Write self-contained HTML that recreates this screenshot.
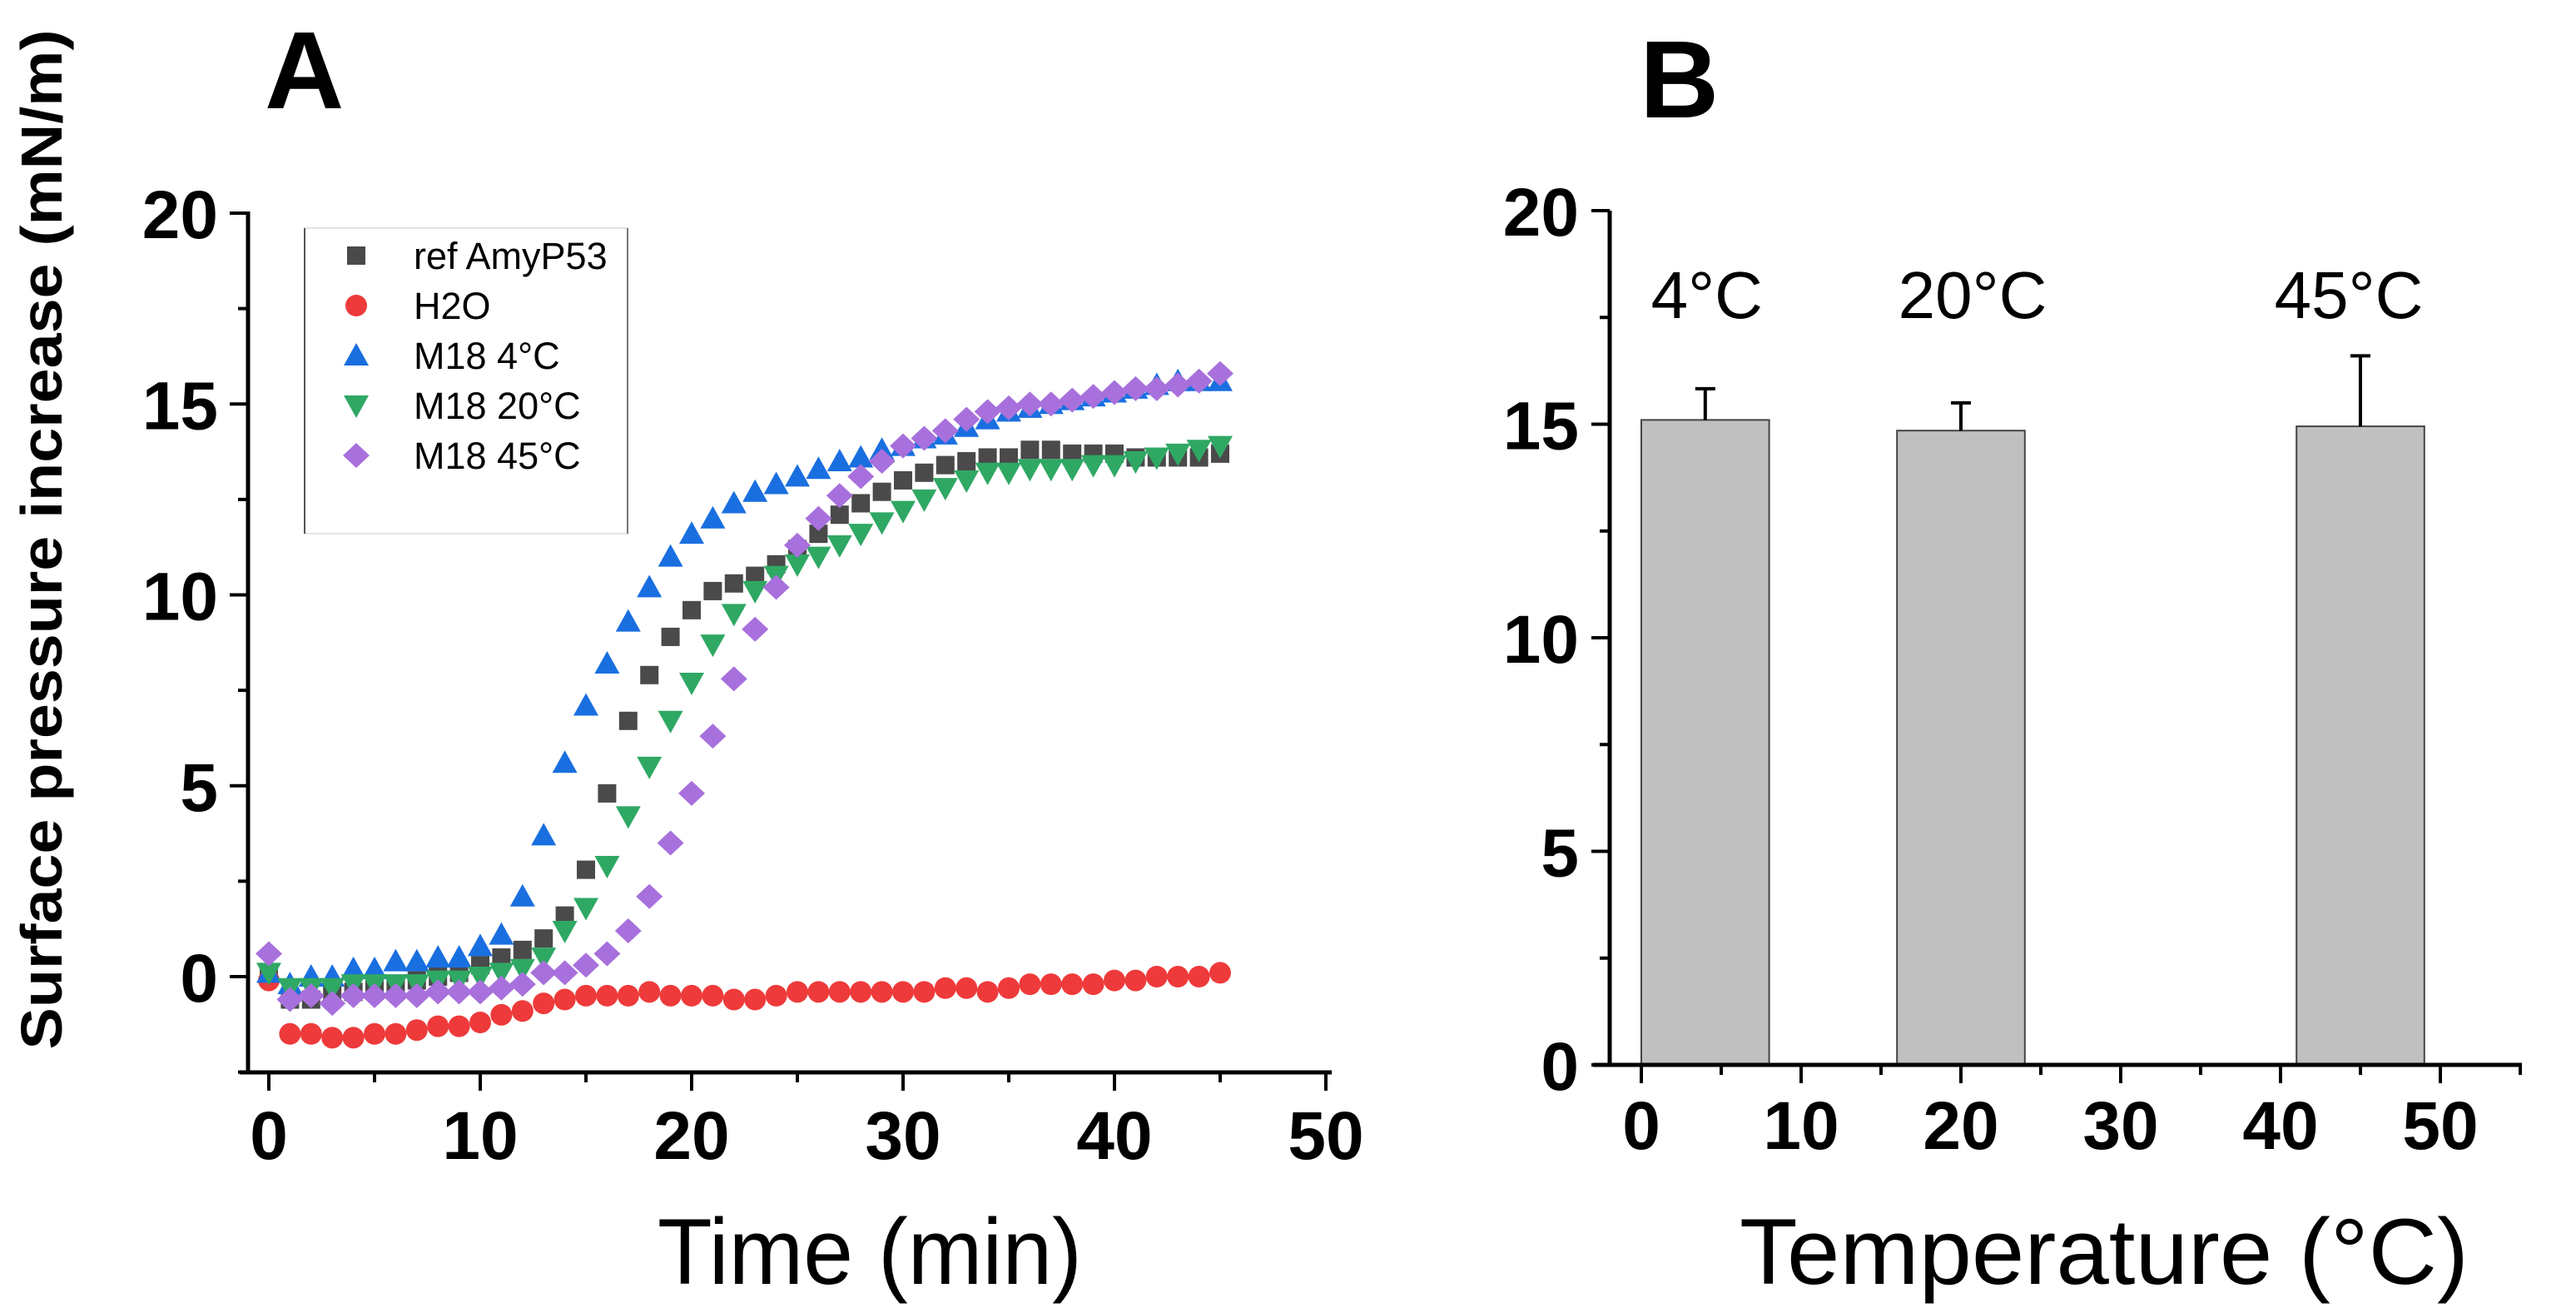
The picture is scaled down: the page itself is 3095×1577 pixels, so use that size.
<!DOCTYPE html>
<html><head><meta charset="utf-8"><style>
html,body{margin:0;padding:0;background:#fff;}
svg{display:block;}
text{font-family:"Liberation Sans",Arial,sans-serif;}
</style></head>
<body>
<svg id="fig" xmlns="http://www.w3.org/2000/svg" width="3095" height="1577" viewBox="0 0 3095 1577">
<rect width="3095" height="1577" fill="#fff"/>
<text x="318" y="130" font-size="132" font-weight="bold">A</text>
<text x="1970" y="141" font-size="132" font-weight="bold">B</text>
<g id="chartA"></g>
<g id="chartB"></g>
</svg>
<script>
// ---- Panel A data ----
const times = [0,1,2,3,4,5,6,7,8,9,10,11,12,13,14,15,16,17,18,19,20,21,22,23,24,25,26,27,28,29,30,31,32,33,34,35,36,37,38,39,40,41,42,43,44,45];
const refAmy = [0,-0.6,-0.6,-0.5,-0.4,-0.3,-0.2,-0.1,0,0.1,0.3,0.5,0.7,1.0,1.6,2.8,4.8,6.7,7.9,8.9,9.6,10.1,10.3,10.5,10.8,11.2,11.6,12.1,12.4,12.7,13.0,13.2,13.4,13.5,13.6,13.6,13.8,13.8,13.7,13.7,13.7,13.6,13.6,13.6,13.6,13.7];
const h2o = [-0.1,-1.5,-1.5,-1.6,-1.6,-1.5,-1.5,-1.4,-1.3,-1.3,-1.2,-1.0,-0.9,-0.7,-0.6,-0.5,-0.5,-0.5,-0.4,-0.5,-0.5,-0.5,-0.6,-0.6,-0.5,-0.4,-0.4,-0.4,-0.4,-0.4,-0.4,-0.4,-0.3,-0.3,-0.4,-0.3,-0.2,-0.2,-0.2,-0.2,-0.1,-0.1,0,0,0,0.1];
const m18c4 = [0.1,-0.2,0,0,0.2,0.2,0.4,0.4,0.5,0.5,0.8,1.1,2.1,3.7,5.6,7.1,8.2,9.3,10.2,11.0,11.6,12.0,12.4,12.7,12.9,13.1,13.3,13.5,13.6,13.8,13.9,14.1,14.2,14.4,14.6,14.8,14.9,15.0,15.1,15.2,15.3,15.4,15.5,15.6,15.6,15.6];
const m18c20 = [0.1,-0.3,-0.3,-0.3,-0.2,-0.2,-0.2,-0.2,-0.1,-0.1,0,0.1,0.2,0.5,1.2,1.8,2.9,4.2,5.5,6.7,7.7,8.7,9.5,10.1,10.5,10.8,11.0,11.3,11.6,11.9,12.2,12.5,12.8,13.0,13.2,13.2,13.3,13.3,13.3,13.4,13.4,13.5,13.6,13.7,13.8,13.9];
const m18c45 = [0.6,-0.6,-0.5,-0.7,-0.5,-0.5,-0.5,-0.5,-0.4,-0.4,-0.4,-0.3,-0.2,0.1,0.1,0.3,0.6,1.2,2.1,3.5,4.8,6.3,7.8,9.1,10.2,11.3,12.0,12.6,13.1,13.5,13.9,14.1,14.3,14.6,14.8,14.9,15.0,15.0,15.1,15.2,15.3,15.4,15.4,15.5,15.6,15.8];
const seriesNames = ["ref AmyP53","H2O","M18 4°C","M18 20°C","M18 45°C"];
const aYTicks = [0,5,10,15,20];
const aXTicks = [0,10,20,30,40,50];
// ---- Panel B data ----
const temps = [4,20,45];
const tempLabels = ["4°C","20°C","45°C"];
const barMeans = [15.1,14.85,14.95];
const barErrors = [0.73,0.65,1.65];
const bYTicks = [0,5,10,15,20];
const bXTicks = [0,10,20,30,40,50];

const NS="http://www.w3.org/2000/svg";
function mk(tag, attrs, parent){const e=document.createElementNS(NS,tag);for(const k in attrs)e.setAttribute(k,attrs[k]);parent.appendChild(e);return e;}

// ---- Panel A ----
const A=document.getElementById('chartA');
const ax=v=>323+v*25.4;
const ay=v=>1173-v*45.85;
let e;
e=mk('line',{x1:298,y1:254,x2:298,y2:1290,stroke:'#000','stroke-width':5},A);


e=mk('line',{x1:288,y1:1288,x2:1600,y2:1288,stroke:'#000','stroke-width':5},A);


for(let v=-2.5;v<=20;v+=2.5){const maj=(v%5===0);mk('line',{x1:298-(maj?22:12),y1:ay(v),x2:298,y2:ay(v),stroke:'#000','stroke-width':4},A);}
aYTicks.forEach(v=>{
  const t=mk('text',{x:262,y:ay(v)+30,'font-size':82,'font-weight':'bold','text-anchor':'end'},A);t.textContent=v;
  
  
});
for(let v=0;v<=50;v+=5){const maj=(v%10===0);mk('line',{x1:ax(v),y1:1288,x2:ax(v),y2:1288+(maj?22:12),stroke:'#000','stroke-width':4},A);}
aXTicks.forEach(v=>{
  const t=mk('text',{x:ax(v),y:1392,'font-size':82,'font-weight':'bold','text-anchor':'middle'},A);t.textContent=v;
  
  
});
e=mk('text',{x:1045,y:1542,'font-size':112,'text-anchor':'middle',textLength:510,lengthAdjust:'spacingAndGlyphs'},A);
e.textContent='Time (min)';


e=mk('text',{x:0,y:0,'font-size':70,'font-weight':'bold','text-anchor':'middle',textLength:1225,lengthAdjust:'spacingAndGlyphs',transform:'translate(74,648) rotate(-90)'},A);
e.textContent='Surface pressure increase (mN/m)';



const colors=['#4a4a4a','#ee3a3a','#1a6fe0','#2fa864','#a870dc'];
function marker(kind,x,y,g){
  if(kind===0) return mk('rect',{x:x-11,y:y-11,width:22,height:22,fill:colors[0]},g);
  if(kind===1) return mk('circle',{cx:x,cy:y,r:13,fill:colors[1]},g);
  if(kind===2) return mk('polygon',{points:`${x-15},${y+12} ${x+15},${y+12} ${x},${y-15}`,fill:colors[2]},g);
  if(kind===3) return mk('polygon',{points:`${x-15},${y-12} ${x+15},${y-12} ${x},${y+15}`,fill:colors[3]},g);
  return mk('polygon',{points:`${x-16},${y} ${x},${y-15} ${x+16},${y} ${x},${y+15}`,fill:colors[4]},g);
}
const allSeries=[refAmy,h2o,m18c4,m18c20,m18c45];
const seriesKeys=['ref-amyp53','h2o','m18-4c','m18-20c','m18-45c'];
allSeries.forEach((s,k)=>{
  const g=mk('g',{},A);
  
  
  s.forEach((v,i)=>{
    const m=marker(k,ax(times[i]),ay(v),g);
    
    
  });
});
// legend
const L=mk('g',{},A);


mk('rect',{x:365,y:274,width:390,height:367,fill:'#fff',stroke:'none'},L);
mk('line',{x1:365,y1:274,x2:755,y2:274,stroke:'#e4e4e4','stroke-width':2},L);
mk('line',{x1:365,y1:641,x2:755,y2:641,stroke:'#e4e4e4','stroke-width':2},L);
mk('line',{x1:366,y1:274,x2:366,y2:641,stroke:'#555','stroke-width':2},L);
mk('line',{x1:754,y1:274,x2:754,y2:641,stroke:'#777','stroke-width':2},L);
seriesNames.forEach((n,k)=>{
  const by=323+k*60;
  const m=marker(k,428,by-16,L);
  
  
  const t=mk('text',{x:497,y:by,'font-size':45},L);
  t.textContent=n;
  
  
});

// ---- Panel B ----
const B=document.getElementById('chartB');
const bx=v=>1972+v*19.2;
const by=v=>1279-v*51.3;
temps.forEach((t,i)=>{
  const r=mk('rect',{x:bx(t-4),y:by(barMeans[i]),width:bx(t+4)-bx(t-4),height:by(0)-by(barMeans[i]),fill:'#c0c0c0',stroke:'#444','stroke-width':2},B);
  
  
  const eb=mk('g',{},B);
  
  
  mk('line',{x1:bx(t),y1:by(barMeans[i]),x2:bx(t),y2:by(barMeans[i]+barErrors[i]),stroke:'#000','stroke-width':4},eb);
  mk('line',{x1:bx(t)-12,y1:by(barMeans[i]+barErrors[i]),x2:bx(t)+12,y2:by(barMeans[i]+barErrors[i]),stroke:'#000','stroke-width':4},eb);
  const lb=mk('text',{x:bx(t)+(i===0?2:(i===1?14:-14)),y:382,'font-size':80,'text-anchor':'middle'},B);
  lb.textContent=tempLabels[i];
  
  
});
e=mk('line',{x1:1934,y1:253,x2:1934,y2:1280,stroke:'#000','stroke-width':5},B);


e=mk('line',{x1:1914,y1:1279,x2:3030,y2:1279,stroke:'#000','stroke-width':5},B);


for(let v=0;v<=20;v+=2.5){const maj=(v%5===0);mk('line',{x1:1934-(maj?22:12),y1:by(v),x2:1934,y2:by(v),stroke:'#000','stroke-width':4},B);}
bYTicks.forEach(v=>{
  const t=mk('text',{x:1897,y:by(v)+30,'font-size':82,'font-weight':'bold','text-anchor':'end'},B);t.textContent=v;
  
  
});
for(let v=0;v<=55;v+=5){const maj=(v%10===0);mk('line',{x1:bx(v),y1:1279,x2:bx(v),y2:1279+(maj?22:12),stroke:'#000','stroke-width':4},B);}
bXTicks.forEach(v=>{
  const t=mk('text',{x:bx(v),y:1380,'font-size':82,'font-weight':'bold','text-anchor':'middle'},B);t.textContent=v;
  
  
});
e=mk('text',{x:2528,y:1542,'font-size':112,'text-anchor':'middle',textLength:876,lengthAdjust:'spacingAndGlyphs'},B);
e.textContent='Temperature (°C)';


</script>
</body></html>
